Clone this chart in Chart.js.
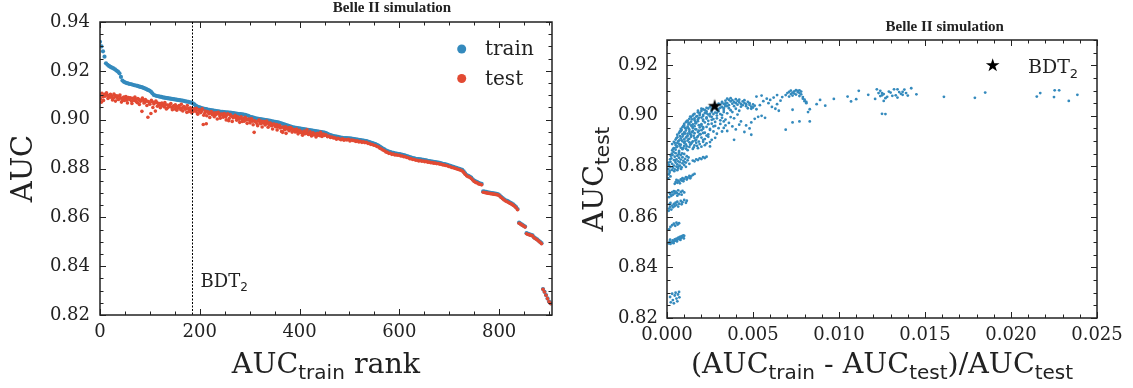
<!DOCTYPE html>
<html>
<head>
<meta charset="utf-8">
<script src="https://cdn.jsdelivr.net/npm/chart.js@4.4.1/dist/chart.umd.min.js"></script>
<style>
  html, body { margin: 0; padding: 0; background: #fff; width: 1133px; height: 388px; overflow: hidden; }
  canvas { position: absolute; top: 0; }
  #left { left: 0; }
  #right { left: 566px; }
</style>
</head>
<body>
<canvas id="left" width="566" height="388"></canvas>
<canvas id="right" width="567" height="388"></canvas>
<script>
// ---- left panel: AUC vs AUC_train rank ----
const ranks = [
  0,3,6,9,12,15,18,21,24,27, 30,33,36,39,42,45,48,51,54,57,
  60,63,66,69,72,75,78,81,84,87, 90,93,96,99,102,105,108,111,114,117,
  120,123,126,129,132,135,138,141,144,147, 150,153,156,159,162,165,168,171,174,177,
  180,183,186,189,192,195,198,201,204,207, 210,213,216,219,222,225,228,231,234,237,
  240,243,246,249,252,255,258,261,264,267, 270,273,276,279,282,285,288,291,294,297,
  300,303,306,309,312,315,318,321,324,327, 330,333,336,339,342,345,348,351,354,357,
  360,363,366,369,372,375,378,381,384,387, 390,393,396,399,402,405,408,411,414,417,
  420,423,426,429,432,435,438,441,444,447, 450,453,456,459,462,465,468,471,474,477,
  480,483,486,489,492,495,498,501,504,507, 510,513,516,519,522,525,528,531,534,537,
  540,543,546,549,552,555,558,561,564,567, 570,573,576,579,582,585,588,591,594,597,
  600,603,606,609,612,615,618,621,624,627, 630,633,636,639,642,645,648,651,654,657,
  660,663,666,669,672,675,678,681,684,687, 690,693,696,699,702,705,708,711,714,717,
  720,723,726,729,732,735,738,741,744,747, 750,753,756,759,762,765,768,771,774,777,
  780,783,786,789,792,795,798,801,804,807, 810,813,816,819,822,825,828,831,834,837,
  840,843,846,849,852,855,858,861,864,867, 870,873,876,879,882,885,888,891,894,897,
  900,903
];

const aucTrain = [
  .9319,.9300,.9280,.9258,.9231,.9225,.9220,.9216,.9213,.9210,
  .9206,.9201,.9197,.9190,.9175,.9160,.9155,.9152,.9150,.9148,
  .9146,.9145,.9143,.9141,.9140,.9138,.9136,.9134,.9133,.9130,
  .9128,.9125,.9122,.9119,.9115,.9108,.9101,.9099,.9097,.9096,
  .9094,.9093,.9091,.9090,.9089,.9088,.9087,.9086,.9085,.9084,
  .9083,.9082,.9081,.9080,.9079,.9078,.9077,.9075,.9074,.9073,
  .9071,.9070,.9067,.9063,.9058,.9054,.9051,.9049,.9047,.9045,
  .9044,.9043,.9041,.9040,.9039,.9038,.9037,.9036,.9035,.9034,
  .9033,.9032,.9032,.9031,.9030,.9030,.9029,.9029,.9028,.9027,
  .9026,.9025,.9024,.9023,.9023,.9022,.9021,.9020,.9018,.9016,
  .9013,.9011,.9009,.9007,.9005,.9004,.9003,.9002,.9001,.9000,
  .8999,.8998,.8997,.8996,.8995,.8993,.8992,.8991,.8990,.8989,
  .8987,.8985,.8983,.8981,.8979,.8977,.8975,.8973,.8971,.8969,
  .8968,.8966,.8965,.8964,.8963,.8962,.8961,.8960,.8959,.8958,
  .8957,.8956,.8955,.8954,.8953,.8952,.8951,.8950,.8949,.8948,
  .8947,.8945,.8942,.8939,.8937,.8935,.8933,.8932,.8931,.8930,
  .8928,.8927,.8926,.8925,.8924,.8924,.8923,.8923,.8922,.8921,
  .8920,.8919,.8918,.8917,.8916,.8915,.8914,.8913,.8912,.8910,
  .8908,.8906,.8904,.8902,.8900,.8897,.8894,.8890,.8886,.8882,
  .8878,.8874,.8871,.8869,.8867,.8865,.8864,.8862,.8861,.8860,
  .8859,.8858,.8856,.8855,.8853,.8851,.8849,.8847,.8845,.8843,
  .8842,.8840,.8839,.8838,.8837,.8836,.8835,.8834,.8833,.8831,
  .8830,.8829,.8828,.8827,.8826,.8825,.8824,.8823,.8821,.8819,
  .8818,.8817,.8815,.8813,.8811,.8809,.8807,.8805,.8803,.8801,
  .8799,.8797,.8794,.8788,.8780,.8773,.8770,.8767,.8763,.8756,
  .8750,.8747,.8744,.8741,.8738,.8737,.8706,.8705,.8704,.8702,
  .8701,.8700,.8699,.8698,.8697,.8696,.8694,.8690,.8684,.8679,
  .8674,.8670,.8667,.8664,.8660,.8657,.8653,.8648,.8642,.8634,
  .8578,.8574,.8570,.8566,.8562,.8535,.8532,.8530,.8528,.8526,
  .8518,.8514,.8510,.8505,.8500,.8494,.8306,.8295,.8282,.8268,
  .8255,.8248
];

const aucTest = [
  .9098,.9072,.9094,.9103,.9106,.9100,.9093,.9104,.9097,.9089,
  .9099,.9092,.9085,.9096,.9088,.9078,.9093,.9086,.9080,.9091,
  .9083,.9076,.9088,.9079,.9084,.9069,.9082,.9075,.9034,.9079,
  .9071,.9077,.9010,.9068,.9025,.9073,.9064,.9035,.9070,.9058,
  .9066,.9059,.9063,.9052,.9061,.9048,.9057,.9062,.9050,.9055,
  .9044,.9053,.9047,.9058,.9041,.9049,.9054,.9043,.9030,.9046,
  .9038,.9042,.9033,.9044,.9036,.9027,.9039,.9031,.9035,.8980,
  .9026,.8983,.9032,.9024,.9029,.9020,.9027,.9018,.9023,.9030,
  .9015,.9022,.9017,.9025,.9012,.9019,.8996,.9021,.9014,.9008,
  .9013,.9007,.9012,.9002,.9009,.8993,.9005,.9010,.8999,.9003,
  .8997,.9004,.8994,.8948,.8991,.8982,.8996,.8989,.8993,.8986,
  .8990,.8983,.8987,.8979,.8985,.8976,.8982,.8974,.8980,.8971,
  .8977,.8969,.8948,.8965,.8971,.8962,.8967,.8959,.8964,.8956,
  .8958,.8952,.8955,.8948,.8951,.8945,.8949,.8943,.8947,.8941,
  .8945,.8939,.8943,.8937,.8941,.8935,.8940,.8934,.8938,.8936,
  .8935,.8938,.8930,.8933,.8927,.8929,.8925,.8926,.8920,.8924,
  .8921,.8918,.8922,.8916,.8919,.8917,.8920,.8913,.8917,.8915,
  .8914,.8911,.8913,.8909,.8911,.8907,.8909,.8906,.8907,.8903,
  .8902,.8899,.8898,.8895,.8894,.8890,.8888,.8883,.8880,.8876,
  .8873,.8868,.8866,.8862,.8862,.8858,.8859,.8855,.8856,.8854,
  .8854,.8851,.8851,.8848,.8848,.8845,.8844,.8840,.8840,.8837,
  .8837,.8834,.8834,.8831,.8833,.8830,.8831,.8828,.8829,.8826,
  .8826,.8824,.8824,.8822,.8822,.8820,.8820,.8818,.8817,.8815,
  .8814,.8812,.8811,.8808,.8807,.8804,.8803,.8801,.8799,.8797,
  .8795,.8793,.8790,.8784,.8776,.8770,.8766,.8764,.8759,.8753,
  .8747,.8743,.8741,.8737,.8735,.8733,.8703,.8702,.8700,.8699,
  .8698,.8697,.8696,.8695,.8694,.8693,.8691,.8687,.8681,.8676,
  .8671,.8667,.8664,.8661,.8657,.8654,.8650,.8645,.8639,.8631,
  .8576,.8572,.8568,.8564,.8560,.8533,.8530,.8528,.8526,.8524,
  .8516,.8512,.8508,.8503,.8498,.8492,.8305,.8294,.8281,.8267,
  .8254,.8247
];

// extra test points in the noisy first half (ranks between the ones above)
const extraRanks = [
  1,4,7,10,13,16,19,22,25,28, 31,34,37,40,43,46,49,52,55,58,
  61,64,67,70,73,76,79,82,85,88, 91,94,97,100,103,106,109,112,115,118,
  121,124,127,130,133,136,139,142,145,148, 151,154,157,160,163,166,169,172,175,178,
  181,184,187,190,193,196,199,202,205,208, 211,214,217,220,223,226,229,232,235,238,
  241,244,247,250,253,256,259,262,265,268, 271,274,277,280,283,286,289,292,295,298,
  301,304,307,310,313,316,319,322,325,328, 331,334,337,340,343,346,349,352,355,358,
  361,364,367,370,373,376,379,382,385,388, 391,394,397,400,403,406,409,412,415,418,
  421,424,427,430,433,436,439,442,445,448
];
const aucTestExtra = [
  .9085,.9108,.9079,.9096,.9110,.9087,.9101,.9092,.9081,.9105,
  .9076,.9098,.9083,.9101,.9072,.9090,.9079,.9095,.9068,.9088,
  .9090,.9066,.9081,.9093,.9073,.9086,.9062,.9080,.9089,.9068,
  .9082,.9058,.9074,.9063,.9079,.9050,.9069,.9076,.9055,.9066,
  .9049,.9068,.9056,.9070,.9044,.9060,.9053,.9066,.9041,.9057,
  .9061,.9039,.9055,.9048,.9063,.9036,.9051,.9046,.9058,.9033,
  .9049,.9028,.9043,.9036,.9047,.9022,.9040,.9029,.9044,.9018,
  .9035,.9016,.9030,.9009,.9033,.9021,.9012,.9028,.9003,.9025,
  .9006,.9023,.9010,.9019,.8999,.9024,.9005,.9016,.8993,.9012,
  .9018,.8998,.9008,.8989,.9012,.9001,.8994,.9006,.8985,.9002,
  .8987,.9003,.8979,.8995,.8990,.8975,.8998,.8983,.8970,.8992,
  .8978,.8994,.8969,.8986,.8975,.8962,.8981,.8971,.8958,.8976,
  .8966,.8952,.8970,.8959,.8944,.8964,.8955,.8968,.8949,.8960,
  .8950,.8962,.8942,.8956,.8947,.8936,.8953,.8944,.8958,.8939,
  .8950,.8933,.8946,.8940,.8929,.8944,.8936,.8948,.8931,.8941
];

const bdtRank = 184;

// ---- right panel: AUC_test vs relative train/test gap ----
const gapVsTest = [
  // lowest groups
  [.00018,.8283],[.00022,.8262],[.0003,.8296],[.00034,.8271],[.0004,.8258],[.00045,.8289],[.0005,.8300],[.00055,.8277],[.0006,.8266],[.00064,.8293],[.0007,.8303],[.00072,.8282],
  [.0001,.8495],[.00015,.8502],[.0002,.8493],[.00028,.8499],[.00033,.8507],[.0004,.8503],[.00045,.8511],[.0005,.8506],[.00055,.8514],[.0006,.8510],[.00066,.8518],[.0007,.8513],[.00075,.8521],[.0008,.8516],[.00085,.8524],[.0009,.8520],[.00095,.8527],[.001,.8525],
  [.00018,.8510],[.00038,.8496],[.00058,.8503],[.00078,.8509],[.00098,.8515],
  [.00012,.8551],[.0002,.8560],[.0003,.8567],[.0004,.8573],[.00048,.8565],[.00055,.8577],[.00062,.8570],[.0007,.8575],
  [.0001,.8624],[.00012,.8633],[.00018,.8640],[.00025,.8629],[.0003,.8645],[.00035,.8638],[.0004,.8651],[.00045,.8643],[.0005,.8656],[.00055,.8648],[.0006,.8660],[.0007,.8652],[.0008,.8663],[.0009,.8658],[.001,.8667],[.00115,.8664],
  [.00015,.8650],[.0002,.8655],[.00065,.8641],[.00085,.8650],[.0011,.8656],
  [.00012,.8678],[.0002,.8690],[.00025,.8683],[.0003,.8698],[.00035,.8688],[.0004,.8702],[.00045,.8693],[.0005,.8700],[.00058,.8695],[.00065,.8705],[.0007,.8690],[.0008,.8699],[.0009,.8703],[.001,.8697],
  [.00015,.8695],[.0006,.8684],[.00085,.8688],
  [.00008,.8752],[.0001,.8768],[.00015,.8775],[.0002,.8760],[.00045,.8731],[.0005,.8738],[.0006,.8735],[.00065,.8743],[.0007,.8740],[.0008,.8748],[.00085,.8744],[.0009,.8753],[.001,.8750],[.0011,.8757],[.0012,.8755],[.0013,.8762],[.0014,.8760],[.0015,.8766],[.0016,.8770],
  [.00055,.8746],[.00075,.8733],[.00095,.8741],[.00115,.8748],[.00135,.8753],
  // blob around 0.878-0.886
  [.00008,.8790],[.00012,.8805],[.00015,.8782],[.0002,.8818],[.0002,.8797],[.00025,.8832],[.00028,.8786],[.0003,.8810],[.00032,.8845],[.00035,.8795],
  [.0004,.8825],[.0004,.8803],[.00045,.8838],[.00045,.8788],[.0005,.8815],[.0005,.8852],[.00055,.8799],[.00055,.8828],[.0006,.8842],[.0006,.8808],
  [.00065,.8792],[.00065,.8820],[.0007,.8834],[.0007,.8856],[.00075,.8803],[.00075,.8816],[.0008,.8827],[.0008,.8845],[.00085,.8796],[.0009,.8812],
  [.0009,.8836],[.00095,.8822],[.001,.8805],[.001,.8849],[.00105,.8830],[.0011,.8815],[.0011,.8798],[.00115,.8840],[.0012,.8824],[.0013,.8810],
  [.0001,.8815],[.00018,.8828],[.00022,.8842],[.00038,.8857],[.00042,.8781],[.0006,.8785],[.00068,.8848],[.00088,.8851],[.00102,.8817],[.00125,.8835],
  [.00062,.8797],[.00082,.8790],[.00048,.8822],[.00028,.8850],[.0007,.8800],
  [.0015,.8823],[.0016,.8820],[.0017,.8828],[.0018,.8825],[.0019,.8832],[.002,.8829],[.0021,.8836],[.0022,.8833],[.0023,.8838],
  // main blob
  [.0003,.8863],[.0004,.8872],[.0005,.8866],[.0006,.8879],[.0007,.8861],[.0008,.8874],[.0009,.8868],[.001,.8881],[.0011,.8870],[.0012,.8864],[.0013,.8877],[.0015,.8869],[.0016,.8883],[.0018,.8872],[.002,.8878],[.0005,.8885],[.0007,.8889],
  [.0003,.8888],[.0004,.8897],[.0006,.8892],[.0008,.8886],[.0009,.8899],[.001,.8893],[.0011,.8887],[.0012,.8902],[.0013,.8895],[.0014,.8889],[.0015,.8899],[.0017,.8893],[.0019,.8888],[.0021,.8897],[.0023,.8891],
  [.0005,.8906],[.0006,.8915],[.0007,.8903],[.0008,.8911],[.0009,.8918],[.001,.8907],[.0011,.8914],[.0012,.8921],[.0013,.8909],[.0014,.8917],[.0016,.8912],[.0017,.8905],[.0018,.8920],[.002,.8914],[.0022,.8908],[.0024,.8917],[.0026,.8905],
  [.0006,.8925],[.0007,.8932],[.0008,.8939],[.0009,.8927],[.001,.8934],[.0011,.8942],[.0012,.8929],[.0013,.8937],[.0014,.8924],[.0015,.8940],[.0016,.8931],[.0018,.8936],[.0019,.8927],[.002,.8943],[.0022,.8933],[.0024,.8926],[.0027,.8938],[.0029,.8929],
  [.0008,.8948],[.0009,.8955],[.001,.8961],[.0011,.8950],[.0012,.8957],[.0013,.8945],[.0014,.8962],[.0015,.8952],[.0016,.8959],[.0017,.8946],[.0019,.8954],[.002,.8961],[.0021,.8949],[.0023,.8956],[.0025,.8944],[.0027,.8958],[.003,.8951],
  [.001,.8968],[.0011,.8975],[.0012,.8981],[.0013,.8970],[.0014,.8977],[.0015,.8966],[.0016,.8983],[.0017,.8972],[.0018,.8979],[.002,.8967],[.0021,.8985],[.0022,.8974],[.0024,.8980],[.0026,.8969],[.0028,.8976],[.0031,.8982],
  [.0013,.8988],[.0014,.8995],[.0015,.9001],[.0016,.8990],[.0017,.8997],[.0018,.8986],[.0019,.9003],[.002,.8993],[.0021,.8999],[.0023,.8989],[.0024,.9005],[.0026,.8996],[.0027,.8987],[.0029,.9001],[.0032,.8992],
  [.0016,.9008],[.0018,.9014],[.0019,.9009],[.002,.9019],[.0022,.9011],[.0023,.9017],[.0025,.9008],[.0026,.9021],[.0028,.9013],[.003,.9018],[.0031,.9007],[.0033,.9015],
  [.0021,.9026],[.0023,.9031],[.0025,.9036],[.0026,.9028],[.0028,.9033],[.0029,.9040],[.003,.9027],[.0031,.9044],[.0032,.9035],[.0033,.9030],[.0034,.9042],[.0035,.9038],
  [.00035,.8869],[.00055,.8876],[.00075,.8882],[.00095,.8873],[.00115,.8879],[.00135,.8886],[.00155,.8875],[.00175,.8881],[.0022,.8884],[.0025,.8879],
  [.00045,.8893],[.00065,.8899],[.00085,.8903],[.00105,.8898],[.00125,.8908],[.00145,.8894],[.00165,.8902],[.00185,.8898],[.0021,.8905],[.0025,.8896],
  [.00055,.8912],[.00075,.8920],[.00095,.8926],[.00115,.8918],[.00135,.8928],[.00155,.8921],[.00175,.8915],[.00195,.8927],[.0023,.8922],[.0028,.8913],
  [.00075,.8938],[.00085,.8944],[.00105,.8930],[.00125,.8950],[.00145,.8935],[.00165,.8947],[.00185,.8941],[.0021,.8932],[.0025,.8948],[.0032,.8938],
  [.00095,.8960],[.00105,.8952],[.00125,.8966],[.00145,.8958],[.00165,.8970],[.00185,.8963],[.0021,.8955],[.0024,.8967],[.0028,.8960],[.0034,.8962],
  [.00115,.8979],[.00125,.8973],[.00145,.8986],[.00165,.8978],[.00185,.8992],[.0021,.8980],[.0023,.8994],[.0026,.8984],[.0029,.8990],[.0033,.8978],
  [.00135,.8997],[.00155,.9006],[.00175,.8999],[.0019,.9012],[.0021,.9004],[.0023,.9010],[.0025,.8998],[.0027,.9007],[.0029,.9012],[.0032,.9003],
  [.0018,.9020],[.002,.9028],[.0022,.9022],[.0024,.9029],[.0026,.9016],[.0027,.9035],[.0029,.9024],[.0031,.9032],[.0033,.9023],[.0034,.9049],
  [.0030,.9048],[.0032,.9052],[.0028,.9043],[.0036,.9030],[.0037,.9022],[.0040,.9028],[.0038,.9015],[.0042,.9020],[.0035,.9010],[.0041,.9005],
  // sparse below the upper band
  [.0031,.8968],[.0033,.8952],[.0034,.8985],[.0035,.8940],[.0036,.8972],[.0038,.8958],[.0039,.8990],[.004,.8946],[.0042,.8965],[.0043,.8978],[.0045,.8936],[.0046,.8962],[.0048,.8950],[.0049,.8974],[.0037,.8995],[.0039,.8905],[.0049,.8925],
  // upper band 0.0035-0.005
  [.0034,.9060],[.0035,.9068],[.0035,.9050],[.0036,.9063],[.0036,.9042],[.0037,.9057],[.0037,.9070],[.0038,.9048],[.0038,.9062],[.0039,.9055],
  [.0039,.9038],[.004,.9066],[.004,.9050],[.0041,.9059],[.0041,.9044],[.0042,.9053],[.0042,.9064],[.0043,.9047],[.0043,.9036],[.0044,.9057],
  [.0044,.9042],[.0045,.9051],[.0045,.9062],[.0046,.9038],[.0046,.9046],[.0047,.9055],[.0047,.9030],[.0048,.9043],[.0048,.9050],[.0049,.9036],
  [.0049,.9028],[.005,.9045],[.005,.9033],[.0051,.9040],[.0052,.9026],[.0033,.9047],[.0032,.9055],[.0034,.9038],
  // 0.005-0.007
  [.0051,.8988],[.0052,.9076],[.0053,.8996],[.0054,.9042],[.0055,.9080],[.0055,.9000],[.0056,.9058],[.0057,.8992],[.0058,.9068],[.0059,.9050],
  [.006,.9063],[.0061,.9035],[.0062,.9072],[.0063,.9028],[.0064,.9082],[.0064,.9046],[.0065,.9020],[.0066,.9060],[.0067,.9074],[.0069,.8945],
  // group near 0.0075
  [.0069,.9082],[.007,.9090],[.0071,.9076],[.0071,.9095],[.0072,.9086],[.0072,.9100],[.0073,.9092],[.0073,.9080],[.0074,.9097],[.0074,.9088],
  [.0075,.9102],[.0075,.9084],[.0076,.9094],[.0076,.9099],[.0077,.9090],[.0077,.9078],[.0078,.9085],[.0078,.9096],[.0079,.9074],[.0079,.9068],
  [.008,.9064],[.008,.9058],[.0081,.9055],[.0081,.9050],[.0077,.9101],
  [.0073,.9024],[.0082,.9015],[.0083,.9026],[.0077,.8978],[.0083,.8978],[.0073,.8974],[.0087,.9046],[.0089,.9063],[.0092,.9040],[.0097,.9067],
  // 0.010-0.015
  [.0105,.9076],[.0107,.9057],[.0110,.9066],[.01115,.9099],[.0117,.9083],
  [.0121,.9067],[.0122,.9105],[.0123,.9090],[.0124,.9099],[.0124,.9078],[.0125,.9090],[.0125,.9081],[.0125,.9008],[.0126,.9059],[.0126,.9086],
  [.0127,.9007],[.0127,.9070],[.0128,.9075],[.0129,.9096],[.0130,.9092],[.0131,.9079],[.0132,.9105],[.0133,.9081],[.0134,.9072],[.0134,.9105],
  [.0135,.9094],[.0136,.9087],[.0137,.9095],[.0137,.9083],[.0138,.9104],[.0139,.9090],[.0140,.9080],[.0142,.9109],[.0145,.9085],
  // far right
  [.0161,.9075],[.0179,.9071],[.0185,.9092],[.0215,.9076],[.0217,.9090],[.0225,.9074],[.02254,.9101],[.0228,.9101],[.02336,.9059],[.02386,.9083]
];

const bdt2Point = [.00277, .9040];

// ---- styling ----
const BLUE = '#348ABD';
const RED = '#E24A33';
const INK = '#222222';
const SERIF = '"DejaVu Serif", serif';
const SANS = '"DejaVu Sans", sans-serif';

Chart.defaults.font.family = SERIF;
Chart.defaults.color = INK;

function starPath(ctx, cx, cy, r) {
  ctx.beginPath();
  for (let k = 0; k < 10; k++) {
    const a = -Math.PI / 2 + k * Math.PI / 5;
    const rr = k % 2 ? r * 0.382 : r;
    ctx.lineTo(cx + rr * Math.cos(a), cy + rr * Math.sin(a));
  }
  ctx.closePath();
}

const starImg = document.createElement('canvas');
starImg.width = 16; starImg.height = 16;
{
  const sc = starImg.getContext('2d');
  sc.fillStyle = '#000';
  starPath(sc, 8, 8.5, 7.2);
  sc.fill();
}

// text with sub-scripts: parts = [[text, font, dy], ...]
function richWidth(ctx, parts) {
  let w = 0;
  for (const [t, f] of parts) { ctx.font = f; w += ctx.measureText(t).width; }
  return w;
}
function drawRich(ctx, parts, x, y) {
  ctx.textAlign = 'left';
  ctx.textBaseline = 'alphabetic';
  for (const [t, f, dy] of parts) {
    ctx.font = f;
    ctx.fillText(t, x, y + (dy || 0));
    x += ctx.measureText(t).width;
  }
}

const big = '28.5px ' + SERIF;
const sub = '20px ' + SANS;

// inward ticks on all four sides + box
const framePlugin = {
  id: 'frame',
  afterDatasetsDraw(chart, args, o) {
    const { ctx, chartArea: a, scales: { x, y } } = chart;
    ctx.save();
    ctx.strokeStyle = INK;
    ctx.lineWidth = 1;
    const marks = (scale, major, minor, horiz) => {
      const n = Math.round((scale.max - scale.min) / minor);
      for (let i = 0; i <= n; i++) {
        const v = scale.min + i * minor;
        const isMajor = Math.abs(v / major - Math.round(v / major)) < 1e-6;
        const len = isMajor ? 6 : 3.5;
        const p = Math.round(scale.getPixelForValue(v)) + 0.5;
        ctx.beginPath();
        if (horiz) {
          ctx.moveTo(p, a.bottom); ctx.lineTo(p, a.bottom - len);
          ctx.moveTo(p, a.top); ctx.lineTo(p, a.top + len);
        } else {
          ctx.moveTo(a.left, p); ctx.lineTo(a.left + len, p);
          ctx.moveTo(a.right, p); ctx.lineTo(a.right - len, p);
        }
        ctx.stroke();
      }
    };
    marks(x, o.xMajor, o.xMinor, true);
    marks(y, o.yMajor, o.yMinor, false);
    ctx.lineWidth = 1.5;
    ctx.strokeRect(a.left, a.top, a.right - a.left, a.bottom - a.top);
    ctx.restore();
  }
};

const tickFont = { family: SERIF, size: 18 };

// ---------- left chart ----------
const leftDecor = {
  id: 'leftDecor',
  afterDraw(chart) {
    const { ctx, chartArea: a, scales: { x } } = chart;
    ctx.save();
    ctx.fillStyle = INK;

    // BDT2 marker line
    const bx = Math.round(x.getPixelForValue(bdtRank)) + 0.5;
    ctx.strokeStyle = '#000';
    ctx.lineWidth = 1;
    ctx.setLineDash([2, 1.5]);
    ctx.beginPath(); ctx.moveTo(bx, a.top); ctx.lineTo(bx, a.bottom); ctx.stroke();
    ctx.setLineDash([]);
    drawRich(ctx, [['BDT', '18px ' + SERIF], ['2', '12px ' + SANS, 4]], bx + 8, 287);

    // legend
    ctx.fillStyle = BLUE;
    ctx.beginPath(); ctx.arc(461.7, 49, 4.5, 0, Math.PI * 2); ctx.fill();
    ctx.fillStyle = RED;
    ctx.beginPath(); ctx.arc(461.7, 78.5, 4.5, 0, Math.PI * 2); ctx.fill();
    ctx.fillStyle = INK;
    ctx.font = '20px ' + SERIF;
    ctx.textAlign = 'left';
    ctx.fillText('train', 485, 55);
    ctx.fillText('test', 485, 85);

    // title
    ctx.font = 'bold 15px "Liberation Serif", serif';
    ctx.textAlign = 'center';
    ctx.fillText('Belle II simulation', a.left + 0.646 * (a.right - a.left), 12);

    // axis labels
    const xl = [['AUC', big], ['train', sub, 6], [' rank', big]];
    drawRich(ctx, xl, (a.left + a.right) / 2 - richWidth(ctx, xl) / 2, 373);
    const yl = [['AUC', '29px ' + SERIF]];
    ctx.save();
    ctx.translate(32, (a.top + a.bottom) / 2);
    ctx.rotate(-Math.PI / 2);
    drawRich(ctx, yl, -richWidth(ctx, yl) / 2, 0);
    ctx.restore();
    ctx.restore();
  }
};

new Chart(document.getElementById('left'), {
  type: 'scatter',
  data: {
    datasets: [
      { label: 'test', data: ranks.map((r, i) => ({ x: r, y: aucTest[i] }))
          .concat(extraRanks.map((r, i) => ({ x: r, y: aucTestExtra[i] }))),
        backgroundColor: RED, pointRadius: 1.8, borderWidth: 0, order: 0 },
      { label: 'train', data: ranks.map((r, i) => ({ x: r, y: aucTrain[i] })),
        backgroundColor: BLUE, pointRadius: 2.1, borderWidth: 0, order: 1 }
    ]
  },
  options: {
    responsive: false,
    animation: false,
    layout: { padding: { top: 22, right: 14, left: 0, bottom: 0 } },
    plugins: {
      legend: { display: false },
      tooltip: { enabled: false },
      frame: { xMajor: 200, xMinor: 50, yMajor: 0.02, yMinor: 0.005 }
    },
    scales: {
      x: {
        type: 'linear', min: 0, max: 906,
        afterFit(s) { s.height = 73; },
        grid: { display: false, drawTicks: false }, border: { display: false },
        ticks: { stepSize: 200, includeBounds: false, padding: 7, font: tickFont, color: INK, maxRotation: 0 }
      },
      y: {
        min: 0.82, max: 0.94,
        afterFit(s) { s.width = 100; },
        grid: { display: false, drawTicks: false }, border: { display: false },
        ticks: { stepSize: 0.02, padding: 10, font: tickFont, color: INK,
                 callback: v => v.toFixed(2) }
      }
    }
  },
  plugins: [framePlugin, leftDecor]
});

// ---------- right chart ----------
const rightDecor = {
  id: 'rightDecor',
  afterDraw(chart) {
    const { ctx, chartArea: a } = chart;
    ctx.save();
    ctx.fillStyle = INK;

    // title
    ctx.font = 'bold 15px "Liberation Serif", serif';
    ctx.textAlign = 'center';
    ctx.fillText('Belle II simulation', a.left + 0.646 * (a.right - a.left), 31);

    // legend
    ctx.fillStyle = '#000';
    starPath(ctx, 426.7, 65.5, 7.2);
    ctx.fill();
    ctx.fillStyle = INK;
    drawRich(ctx, [['BDT', '19px ' + SERIF], ['2', '13px ' + SANS, 5]], 462, 72.5);

    // axis labels
    const xl = [['(AUC', big], ['train', sub, 6], [' - AUC', big], ['test', sub, 6], [')/AUC', big], ['test', sub, 6]];
    drawRich(ctx, xl, (a.left + a.right) / 2 - richWidth(ctx, xl) / 2, 373);
    const yl = [['AUC', big], ['test', sub, 6]];
    ctx.save();
    ctx.translate(37, (a.top + a.bottom) / 2);
    ctx.rotate(-Math.PI / 2);
    drawRich(ctx, yl, -richWidth(ctx, yl) / 2, 0);
    ctx.restore();
    ctx.restore();
  }
};

new Chart(document.getElementById('right'), {
  type: 'scatter',
  data: {
    datasets: [
      { label: 'BDT2', data: [{ x: bdt2Point[0], y: bdt2Point[1] }],
        pointStyle: starImg, pointRadius: 8, order: 0 },
      { label: 'models', data: gapVsTest.map(([gx, gy]) => ({ x: gx, y: gy })),
        backgroundColor: BLUE, pointRadius: 1.4, borderWidth: 0, order: 1 }
    ]
  },
  options: {
    responsive: false,
    animation: false,
    layout: { padding: { top: 40, right: 36, left: 0, bottom: 0 } },
    plugins: {
      legend: { display: false },
      tooltip: { enabled: false },
      frame: { xMajor: 0.005, xMinor: 0.001, yMajor: 0.02, yMinor: 0.005 }
    },
    scales: {
      x: {
        type: 'linear', min: 0, max: 0.025,
        afterFit(s) { s.height = 70; },
        grid: { display: false, drawTicks: false }, border: { display: false },
        ticks: { stepSize: 0.005, includeBounds: false, padding: 7, font: tickFont, color: INK, maxRotation: 0,
                 callback: v => v.toFixed(3) }
      },
      y: {
        min: 0.82, max: 0.93,
        afterFit(s) { s.width = 101; },
        grid: { display: false, drawTicks: false }, border: { display: false },
        ticks: { stepSize: 0.02, includeBounds: false, padding: 9, font: tickFont, color: INK,
                 callback: v => v.toFixed(2) }
      }
    }
  },
  plugins: [framePlugin, rightDecor]
});
</script>
</body>
</html>
